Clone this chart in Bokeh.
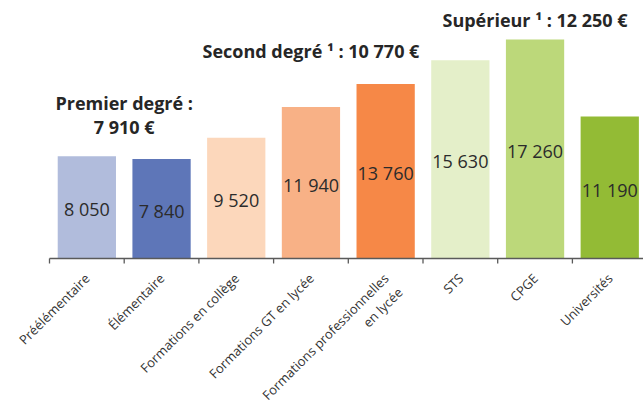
from bokeh.plotting import figure
from bokeh.models import ColumnDataSource, Range1d
from bokeh.embed import file_html
from bokeh.resources import INLINE
from bokeh.core.properties import value
import math

# ---- data ----
categories = ["Préélémentaire", "Élémentaire", "Formations en collège",
              "Formations GT en lycée", "Formations professionnelles\nen lycée",
              "STS", "CPGE", "Universités"]
values = [8050, 7840, 9520, 11940, 13760, 15630, 17260, 11190]
value_labels = ["8 050", "7 840", "9 520", "11 940", "13 760", "15 630", "17 260", "11 190"]
colors = ["#b1bcdc", "#5e76b8", "#fcd7bb", "#f8b186", "#f68847", "#e4efc9", "#bcd87a", "#93bb35"]

group_titles = ["Premier degré :\n7 910 €", "Second degré \u00b9 : 10 770 €", "Supérieur \u00b9 : 12 250 €"]
group_first = [0, 2, 5]
group_last = [2, 5, 8]

# ---- layout ----
W, H = 643, 407
px = 219 / 17260.0            # pixels per euro
base_px = 258                 # baseline from top of frame
cat_px = 74.7                 # pixels per category
y_top = base_px / px
y_bot = -(H - base_px) / px
x_left = -49 / cat_px
x_right = (W - 49) / cat_px

p = figure(width=W, height=H, output_backend="svg", toolbar_location=None,
           x_range=Range1d(x_left, x_right), y_range=Range1d(y_bot, y_top),
           min_border=0, min_border_left=0, min_border_right=0,
           min_border_top=0, min_border_bottom=0)
p.axis.visible = False
p.grid.visible = False
p.outline_line_color = None
p.background_fill_color = "white"
p.border_fill_color = "white"

FONT = "Open Sans"
n = len(categories)
centers = [i + 0.5 for i in range(n)]

src = ColumnDataSource(dict(x=centers, top=values, color=colors,
                            mid=[v / 2 for v in values], lab=value_labels,
                            cat=categories, laby=[-11 / px] * n,
                            labx=[c - 6 / cat_px for c in centers]))

p.vbar(x="x", top="top", bottom=0, width=0.78, fill_color="color",
       line_color=None, source=src)

# value labels
p.text(x="x", y="mid", text="lab", source=src, text_align="center",
       text_baseline="middle", y_offset=2, text_font=value(FONT),
       text_font_size="18px", text_color="#2b2b2b")

# axis line and ticks
p.segment(x0=[0], y0=[0], x1=[x_right], y1=[0], line_color="#5a5a5a", line_width=1.3)
p.segment(x0=list(range(n)), y0=[0] * n, x1=list(range(n)), y1=[-5 / px] * n,
          line_color="#5a5a5a", line_width=1.3)

# category labels
p.text(x="labx", y="laby", text="cat", source=src, angle=math.pi / 4,
       text_align="right", text_baseline="top", text_font=value(FONT),
       text_font_size="13px", text_color="#333333", text_line_height=1.1)

# group titles
title_y_px = [114, 50, 19]
gx = [(a + b) / 2 for a, b in zip(group_first, group_last)]
gy = [(base_px - t) / px for t in title_y_px]
p.text(x=gx, y=gy, text=group_titles, text_align="center", text_baseline="middle",
       text_font=value(FONT), text_font_style="bold", text_font_size="18px",
       text_color="#262626", text_line_height=1.0)

open("out.html", "w").write(file_html(p, INLINE))
